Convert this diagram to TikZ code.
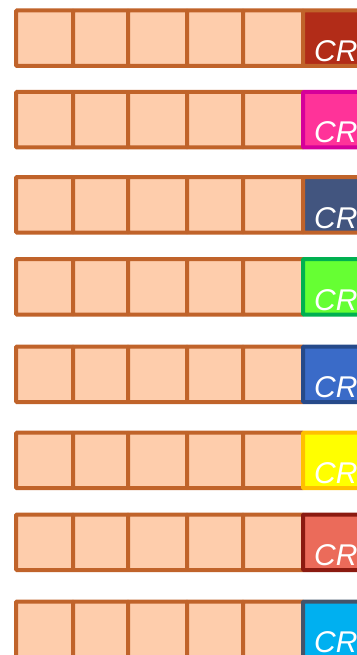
\documentclass[tikz,border=0pt]{standalone}
\usepackage{fontspec}
\setmainfont{Liberation Sans}
\definecolor{cellfill}{HTML}{FECDAC}
\definecolor{celldraw}{HTML}{C0632A}
\definecolor{fillA}{HTML}{B22C18}
\definecolor{fillB}{HTML}{FF3399}
\definecolor{lineB}{HTML}{D6009A}
\definecolor{fillC}{HTML}{42557F}
\definecolor{fillD}{HTML}{66FF33}
\definecolor{lineD}{HTML}{00B050}
\definecolor{fillE}{HTML}{3A6BC8}
\definecolor{lineE}{HTML}{264A8A}
\definecolor{fillF}{HTML}{FFFF00}
\definecolor{lineF}{HTML}{FFC000}
\definecolor{fillG}{HTML}{EB6B5A}
\definecolor{lineG}{HTML}{8B1A10}
\definecolor{fillH}{HTML}{00B0F0}
\definecolor{lineH}{HTML}{44546A}
\begin{document}
\begin{tikzpicture}[x=1pt, y=-1pt,
  cell/.style={draw=celldraw, fill=cellfill, line width=4pt, minimum height=55.5pt, inner sep=0pt, anchor=north west, rounded corners=1pt},
  crbox/.style={line width=4pt, minimum height=55.5pt, minimum width=60pt, inner sep=0pt, anchor=north west, rounded corners=1pt},
  crtext/.style={text=white, font=\fontsize{30}{30}\selectfont\itshape, inner sep=0pt, anchor=base west}]
\useasboundingbox (0,0) rectangle (356,655);
\foreach \y/\f/\d [count=\r] in {8.5/fillA/celldraw, 90/fillB/lineB, 175/fillC/celldraw, 257/fillD/lineD,
                                344.5/fillE/lineE, 430.7/fillF/lineF, 512.5/fillG/lineG, 599.5/fillH/lineH} {
  \foreach \xa/\xb [count=\c] in {14/71, 71/126, 126/185, 185/241, 241/301}
    \node[cell, minimum width={(\xb-\xa)*1pt}] (c\r-\c) at (\xa,\y) {};
  \node[crbox, fill=\f, draw=\d] (cr\r) at (301,\y) {};
  \node[crtext] (t\r) at ([xshift=13pt, yshift=6.5pt]cr\r.south west) {CR};
}
\end{tikzpicture}
\end{document}
